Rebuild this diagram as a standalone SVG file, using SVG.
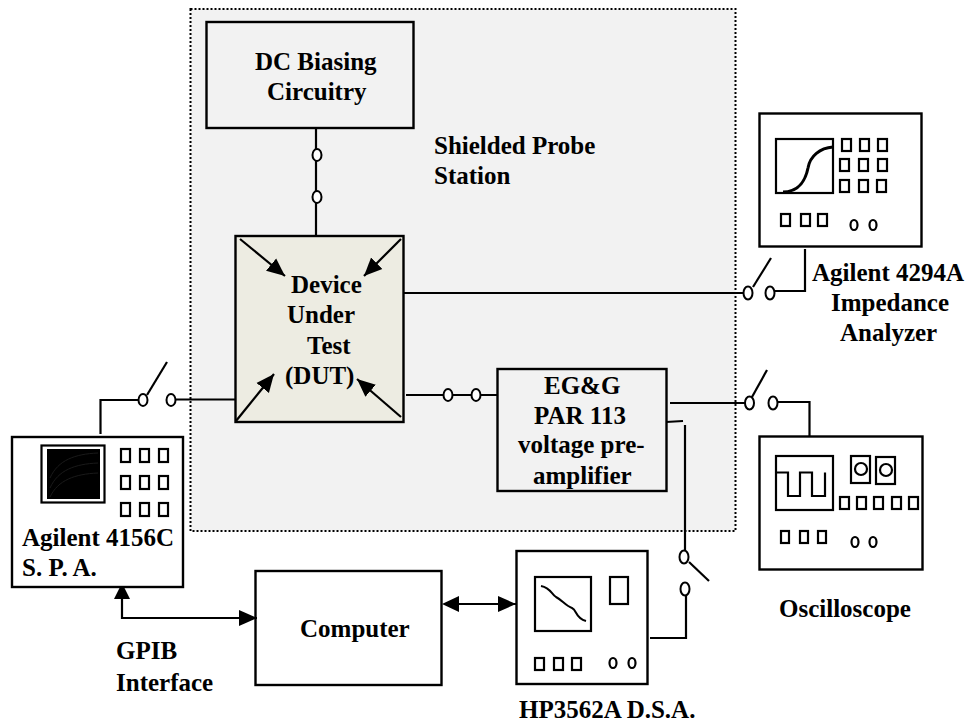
<svg xmlns="http://www.w3.org/2000/svg" width="971" height="726" viewBox="0 0 971 726">
<style>
.b{fill:none;stroke:#000;stroke-width:2.4}
.w{fill:#fff;stroke:#000;stroke-width:2.4}
.l{fill:none;stroke:#000;stroke-width:2.2}
.k{fill:none;stroke:#000;stroke-width:2.2}
.o{fill:#fff;stroke:#000;stroke-width:2}
.t{font-family:"Liberation Serif","Times New Roman",serif;font-weight:bold;font-size:25px;fill:#000}
</style>
<defs>
<marker id="a" markerUnits="userSpaceOnUse" markerWidth="20" markerHeight="18" refX="18" refY="9" orient="auto"><path d="M0 1L18 9L0 17Z" fill="#000"/></marker>
</defs>
<rect id="shield" x="190.500" y="9" width="545" height="522" fill="#f2f2f2" stroke="#000" stroke-width="2" stroke-dasharray="2 2"/>
<g id="connectors">
<path class="l" d="M316 128V236"/>
<ellipse class="o" cx="317" cy="155" rx="4.500" ry="6"/>
<ellipse class="o" cx="317" cy="197" rx="4.500" ry="6"/>
<path class="l" d="M404 293H748"/>
<ellipse class="o" cx="748" cy="293" rx="4.500" ry="6.500"/>
<path class="l" d="M753 287L771 258"/>
<ellipse class="o" cx="770" cy="293" rx="4.500" ry="6.500"/>
<path class="l" d="M775 291H805V249"/>
<path class="l" d="M100.500 434V400H142"/>
<ellipse class="o" cx="143" cy="400" rx="4.500" ry="6"/>
<path class="l" d="M147 395L167 362"/>
<ellipse class="o" cx="171" cy="400" rx="4.500" ry="6"/>
<path class="l" d="M176 399.500H235"/>
<path class="l" d="M406 395H497"/>
<ellipse class="o" cx="448" cy="395" rx="4.500" ry="6"/>
<ellipse class="o" cx="476" cy="395" rx="4.500" ry="6"/>
<path class="l" d="M670 403H745"/>
<ellipse class="o" cx="749.500" cy="403" rx="4.500" ry="6.500"/>
<path class="l" d="M752 397L767 370"/>
<ellipse class="o" cx="773" cy="403" rx="4.500" ry="6.500"/>
<path class="l" d="M778 402H809.500V436"/>
<path class="l" d="M666 422L683 421"/>
<path class="l" d="M685 425V550"/>
<ellipse class="o" cx="684" cy="557" rx="4.500" ry="6.500"/>
<path class="l" d="M689 562L709 581"/>
<ellipse class="o" cx="685" cy="589" rx="4.500" ry="6.500"/>
<path class="l" d="M686 596V638H650"/>
<path class="l" d="M122 589V618H257" marker-end="url(#a)"/>
<path d="M122 583L130 599H114Z" fill="#000"/>
<path class="l" d="M444 604H516" marker-end="url(#a)"/>
<path d="M442 604L459 596V612Z" fill="#000"/>
</g>
<g id="dc-biasing">
<rect class="b" x="206.500" y="22" width="207" height="106"/>
<text class="t" x="255" y="70">DC Biasing</text>
<text class="t" x="267" y="100">Circuitry</text>
</g>
<text id="shield-label" class="t" x="434" y="154">Shielded Probe<tspan x="434" y="184">Station</tspan></text>
<g id="dut">
<rect x="235.500" y="236" width="168" height="186" fill="#edece2" stroke="#000" stroke-width="2.400"/>
<path class="l" d="M240 239L285 276" marker-end="url(#a)"/>
<path class="l" d="M401 239L364 276" marker-end="url(#a)"/>
<path class="l" d="M236 421L274 374" marker-end="url(#a)"/>
<path class="l" d="M401 417L357 379" marker-end="url(#a)"/>
<text class="t" x="291" y="293">Device</text>
<text class="t" x="287" y="323">Under</text>
<text class="t" x="307" y="354">Test</text>
<text class="t" x="285" y="384">(DUT)</text>
</g>
<g id="preamp">
<rect class="b" x="497.500" y="369" width="169" height="122"/>
<text class="t" x="544" y="394">EG&amp;G</text>
<text class="t" x="534" y="424">PAR 113</text>
<text class="t" x="518" y="453">voltage pre-</text>
<text class="t" x="533" y="484">amplifier</text>
</g>
<g id="impedance-analyzer">
<rect class="w" x="759.500" y="113.500" width="162" height="133"/>
<rect class="k" x="776" y="139" width="57" height="54"/>
<path d="M783 192C800 192 806 178 808 168C810 156 820 148 833 147" fill="none" stroke="#000" stroke-width="3"/>
<g class="k"><rect x="842" y="139" width="9" height="12"/><rect x="860" y="139" width="9" height="12"/><rect x="878" y="139" width="9" height="12"/><rect x="840" y="159" width="9" height="12"/><rect x="859" y="159" width="9" height="12"/><rect x="878" y="159" width="9" height="12"/><rect x="840" y="180" width="9" height="12"/><rect x="859" y="180" width="9" height="12"/><rect x="877" y="180" width="9" height="12"/>
<rect x="781" y="214" width="9" height="12"/><rect x="801" y="214" width="9" height="12"/><rect x="818" y="214" width="9" height="12"/>
<ellipse cx="854" cy="225" rx="3.500" ry="5"/><ellipse cx="873" cy="225" rx="3.500" ry="5"/></g>
<text class="t" x="812" y="281">Agilent 4294A</text>
<text class="t" x="831" y="311">Impedance</text>
<text class="t" x="840" y="341">Analyzer</text>
</g>
<g id="oscilloscope">
<rect class="w" x="759.500" y="436.500" width="163" height="133"/>
<rect class="k" x="776" y="456" width="57" height="54"/>
<path class="k" d="M776 472.500H788V496H800V472.500H812V496H825V472.500"/>
<g class="k"><rect x="851" y="456" width="19" height="27"/><rect x="876" y="457" width="19" height="27"/><circle cx="861" cy="469" r="6"/><circle cx="886" cy="470" r="6"/>
<rect x="840" y="497" width="9" height="12"/><rect x="857" y="497" width="9" height="12"/><rect x="874" y="497" width="9" height="12"/><rect x="892" y="497" width="9" height="12"/><rect x="909" y="497" width="9" height="12"/>
<rect x="781" y="531" width="8" height="12"/><rect x="800" y="531" width="8" height="12"/><rect x="818" y="531" width="8" height="12"/>
<ellipse cx="855" cy="542" rx="3.500" ry="5"/><ellipse cx="873" cy="542" rx="3.500" ry="5"/></g>
<text class="t" x="779" y="617">Oscilloscope</text>
</g>
<g id="spa">
<rect class="w" x="12" y="437" width="171" height="150"/>
<rect class="k" x="41.500" y="445.500" width="63" height="57"/>
<rect x="47" y="449" width="53" height="50" fill="#000"/>
<path d="M50 478C58 460 75 454 98 453M50 488C58 470 75 464 98 463M50 497C58 480 75 474 98 473" fill="none" stroke="#1a1a1a" stroke-width="1"/>
<g class="k"><rect x="121" y="449" width="9" height="13"/><rect x="140" y="449" width="9" height="13"/><rect x="159" y="449" width="9" height="13"/><rect x="121" y="476" width="9" height="13"/><rect x="140" y="476" width="9" height="13"/><rect x="159" y="476" width="9" height="13"/><rect x="121" y="503" width="9" height="13"/><rect x="140" y="503" width="9" height="13"/><rect x="159" y="503" width="9" height="13"/></g>
<text class="t" x="22" y="546">Agilent 4156C</text>
<text class="t" x="22" y="576">S. P. A.</text>
</g>
<g id="computer">
<rect class="b" x="255.500" y="571" width="186" height="114"/>
<text class="t" x="300" y="637">Computer</text>
</g>
<g id="dsa">
<rect class="w" x="516.500" y="551" width="131" height="133"/>
<rect class="k" x="535" y="577" width="56" height="54"/>
<path d="M541 586C551 588 551 594 556 597C562 600 566 606 572 608C577 610 575 618 586 621" fill="none" stroke="#000" stroke-width="2"/>
<g class="k"><rect x="610" y="577" width="18" height="27"/>
<rect x="535" y="658" width="9" height="12"/><rect x="554" y="658" width="9" height="12"/><rect x="572" y="658" width="9" height="12"/>
<ellipse cx="613" cy="663" rx="3.500" ry="5"/><ellipse cx="632" cy="663" rx="3.500" ry="5"/></g>
<text class="t" x="519" y="718">HP3562A D.S.A.</text>
</g>
<text id="gpib-label" class="t" x="116" y="659">GPIB<tspan x="116" y="691">Interface</tspan></text>
</svg>
